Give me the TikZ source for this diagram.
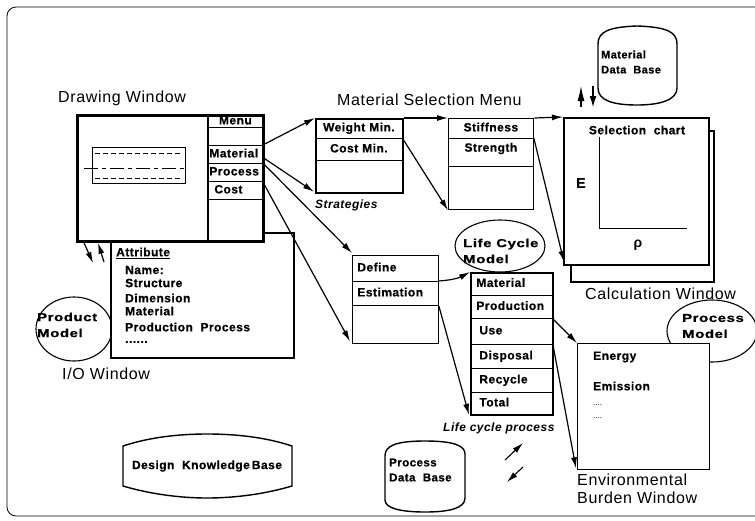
\documentclass[tikz,border=0pt]{standalone}
\usepackage{fontspec}
\setmainfont{Liberation Sans}
\newfontfamily\labfam[LetterSpace=4]{Liberation Sans}
\newfontfamily\bxfam[LetterSpace=4,BoldFeatures={FakeBold=0.6}]{Liberation Sans}
\newfontfamily\dispfam[FakeStretch=1.3,LetterSpace=5,BoldFeatures={FakeBold=0.8}]{Liberation Sans}
\newcommand\labtxt{\labfam\fontsize{16}{18}\selectfont}
\newcommand\bxtxt{\bxfam\bfseries\fontsize{12}{14}\selectfont}
\newcommand\disptxt{\dispfam\bfseries\fontsize{11.5}{16}\selectfont}
\usetikzlibrary{arrows.meta,calc,shapes.geometric}
\begin{document}
\begin{tikzpicture}[x=1pt,y=-1pt,
  conn/.style={line width=1.2pt,-{Latex[length=11pt,width=6pt]}},
  bigbox/.style={draw,line width=1.8pt,fill=white,anchor=north west,inner sep=0pt},
  midbox/.style={draw,line width=1.3pt,anchor=north west,inner sep=0pt},
  cell/.style={draw,line width=0.8pt,anchor=north west,inner xsep=5pt,inner ysep=0pt,
     text width=#1,font=\bxtxt,align=left,text height=8.5pt,text depth=2.5pt},
  ccell/.style={cell=#1,align=center},
  db/.style={draw,line width=1.4pt,fill=white},
  oval/.style={draw,ellipse,line width=1.1pt,inner sep=0pt},
  lab/.style={font=\labtxt,inner sep=0pt,anchor=west},
  btxt/.style={font=\bxtxt,inner sep=0pt,anchor=west,align=left},
  dtxt/.style={font=\disptxt,inner sep=0pt,anchor=west,align=left}]
\useasboundingbox (0,0) rectangle (755,520);
\fill[white] (0,0) rectangle (755,520);
% outer frame
\draw[line width=0.8pt,rounded corners=9pt] (7,7) rectangle (768,516);

% ---------- Product model + I/O window
\node[oval,minimum width=76pt,minimum height=64pt] (pm) at (74,329) {};
\node[bigbox,minimum width=183pt,minimum height=125pt] (io) at (110,232) {};
\node[dtxt] (pmt) at (37,325) {Product\\Model};
\node[btxt] (attr) at (116,253) {\underline{Attribute}};
\node[btxt] (a1) at (125,270) {Name:};
\node[btxt] (a2) at (125,283) {Structure};
\node[btxt] (a3) at (125,298) {Dimension};
\node[btxt] (a4) at (125,311) {Material};
\node[btxt] (a5) at (125,327) {Production\ \ Process};
\node[btxt] (a6) at (125,342) {......};
\node[lab] (iolab) at (62,374) {I/O Window};

% ---------- Drawing window
\node[bigbox,minimum width=185pt,minimum height=125pt] (dw) at (77,115) {};
\node[lab] (dwlab) at (58,98) {Drawing Window};
\draw[line width=0.9pt] (92,147) rectangle (185,183);
\draw[line width=0.9pt,dash pattern=on 5pt off 3pt] (95,153) -- (183,153);
\draw[line width=0.9pt,dash pattern=on 5pt off 3pt] (95,178) -- (183,178);
\draw[line width=0.9pt,dash pattern=on 14pt off 4pt on 4pt off 4pt] (84,168) -- (188,168);
\node[ccell=44pt,minimum height=12pt] (menuc) at (208,115) {Menu};
\node[cell=44pt,minimum height=18pt] (blankc) at (208,127) {};
\node[cell=44pt,minimum height=18pt,inner xsep=1pt,text width=52pt] (matc) at (208,145) {Material};
\node[cell=44pt,minimum height=18pt,inner xsep=1pt,text width=52pt] (procc) at (208,163) {Process};
\node[cell=44pt,minimum height=18pt,inner xsep=6pt,text width=42pt] (costc) at (208,181) {Cost};
\draw[line width=1.8pt] (dw.north west) rectangle (dw.south east);
\draw[line width=1.8pt] ($(dw.north west)+(131,0)$) -- ($(dw.south west)+(131,0)$);

% ---------- Material selection menu
\node[lab] (msm) at (337,100) {Material Selection Menu};
\node[ccell=77pt,minimum height=20pt] (wm) at (315,118) {Weight\ Min.};
\node[ccell=77pt,minimum height=22pt] (cmn) at (315,138) {Cost\ Min.};
\node[cell=77pt,minimum height=32pt] (wrest) at (315,160) {};
\node[midbox,line width=1.8pt,minimum width=87pt,minimum height=74pt] (wbox) at (315,118) {};
\node[btxt,font=\bxtxt\itshape] (strat) at (315,205) {Strategies};

\node[ccell=75pt,minimum height=20pt] (st) at (448,118) {Stiffness};
\node[ccell=75pt,minimum height=28pt,text height=8.5pt,text depth=10pt] (sg) at (448,138) {Strength};
\node[cell=75pt,minimum height=43pt] (srest) at (448,166) {};
\node[midbox,minimum width=85pt,minimum height=91pt] (sbox) at (448,118) {};

% ---------- Calculation window
\node[bigbox,minimum width=143pt,minimum height=151pt] (chartb) at (570,130) {};
\node[bigbox,line width=2pt,minimum width=145pt,minimum height=147pt] (chart) at (563,117) {};
\node[btxt,anchor=center] (selc) at (637,130) {Selection\ \ chart};
\node[btxt,font=\bxfam\bfseries\fontsize{14}{16}\selectfont] (ee) at (576,183) {E};
\node[btxt,anchor=center,font=\bfseries\fontsize{14}{16}\selectfont] (rho) at (638,245) {ρ};
\draw[line width=0.9pt] ($(chart.north west)+(36,20)$) -- ($(chart.north west)+(36,111)$) -- ($(chart.north west)+(124,111)$);
\node[lab] (calclab) at (585,294) {Calculation Window};

% ---------- Material data base
\draw[db] (598,44) .. controls (598,32) and (608,27) .. (637,26) .. controls (667,27) and (677,32) .. (677,44)
  -- (677,88) .. controls (677,100) and (660,105) .. (637,105) .. controls (612,105) and (598,100) .. (598,88) -- cycle;
\node[btxt,font=\bxfam\bfseries\fontsize{11}{15}\selectfont] (mdb) at (601,62) {Material\\Data\ \ Base};
\coordinate (mdbL) at (581,86);
\coordinate (mdbR) at (593,86);
\draw[line width=1.1pt,-{Latex[length=15pt,width=7pt]}] ($(chart.north west)+(18,-10)$) -- (mdbL);
\draw[line width=1.1pt,-{Latex[length=11pt,width=7pt]}] (mdbR) -- ($(chart.north west)+(30,-10)$);

% ---------- Define / Estimation
\node[cell=76pt,minimum height=26pt] (de) at (352,255) {Define};
\node[cell=76pt,minimum height=24pt] (es) at (352,281) {Estimation};
\node[cell=76pt,minimum height=38pt] (drest) at (352,305) {};
\node[midbox,minimum width=86pt,minimum height=88pt] (dbox) at (352,255) {};

% ---------- Life cycle model
\node[oval,minimum width=90pt,minimum height=52pt] (lcm) at (500,246) {};
\node[dtxt] (lcmt) at (463,251) {Life Cycle\\Model};
\node[cell=70pt,minimum height=23pt,inner xsep=6pt] (lc1) at (470,272) {Material};
\node[cell=70pt,minimum height=23pt,inner xsep=6pt] (lc2) at (470,295) {Production};
\node[cell=70pt,minimum height=26pt,inner xsep=9pt,text width=64pt] (lc3) at (470,318) {Use};
\node[cell=70pt,minimum height=24pt,inner xsep=9pt,text width=64pt] (lc4) at (470,344) {Disposal};
\node[cell=70pt,minimum height=24pt,inner xsep=9pt,text width=64pt] (lc5) at (470,368) {Recycle};
\node[cell=70pt,minimum height=22pt,inner xsep=9pt,text width=64pt] (lc6) at (470,392) {Total};
\node[midbox,line width=1.8pt,minimum width=82pt,minimum height=142pt] (lcbox) at (470,272) {};
\node[btxt,font=\bxtxt\itshape] (lcp) at (443,428) {Life cycle process};

% ---------- Environmental burden window
\node[oval,minimum width=90pt,minimum height=62pt] (prm) at (712,331) {};
\node[midbox,fill=white,minimum width=132pt,minimum height=126pt] (env) at (577,343) {};
\node[dtxt] (prmt) at (682,326) {Process\\Model};
\node[btxt] (en1) at (593,357) {Energy};
\node[btxt] (en2) at (593,386) {Emission};
\node[btxt,font=\fontsize{8}{9}\selectfont] (en3) at (593,405) {....};
\node[btxt,font=\fontsize{8}{9}\selectfont] (en4) at (593,418) {....};
\node[lab,align=left,font=\labfam\fontsize{16}{18}\selectfont] (envlab) at (577,489) {Environmental\\Burden Window};

% ---------- Knowledge / data bases
\draw[db] (123,446) .. controls (150,437) and (180,434) .. (207,434) .. controls (235,434) and (265,437) .. (292,446)
  -- (292,486) .. controls (265,494) and (235,498) .. (207,498) .. controls (180,498) and (150,494) .. (123,486) -- cycle;
\node[btxt,anchor=center] (dkb) at (207,466) {Design\ \ Knowledge\,Base};
\draw[db] (385,456) .. controls (385,446) and (395,441) .. (425,441) .. controls (455,441) and (465,446) .. (465,454)
  -- (465,498) .. controls (465,508) and (450,512) .. (425,512) .. controls (400,512) and (385,508) .. (385,500) -- cycle;
\node[btxt,font=\bxfam\bfseries\fontsize{11.5}{15}\selectfont] (pdb) at (389,470) {Process\\Data\ \ Base};
\coordinate (p1) at (505,460);
\coordinate (p2) at (523,443);
\coordinate (p3) at (523,467);
\coordinate (p4) at (507,482);
\draw[line width=1.1pt,-{Latex[length=11pt,width=6pt]}] (p1) -- (p2);
\draw[line width=1.1pt,-{Latex[length=11pt,width=6pt]}] (p3) -- (p4);

% ---------- connectors
\coordinate (dwio1) at (93,263);
\coordinate (dwio2) at (104,262);
\draw[conn] ($(dw.south west)+(7,1)$) -- (dwio1);
\draw[conn] (dwio2) -- ($(dw.south west)+(21,1)$);
\draw[conn] (matc.north east) -- (wbox.north west);
\draw[conn] ($(matc.east)+(0,3)$) -- ($(wbox.south west)+(-1,-2)$);
\draw[conn] (procc.north east) -- ($(dbox.north west)+(0,-2)$);
\draw[conn] (procc.south east) -- ($(dbox.south west)+(-2,-3)$);
\draw[conn] (wbox.north east) -- (sbox.north west);
\draw[conn] (sbox.north east) -- (chart.north west);
\draw[conn] (wm.south east) -- (sbox.south west);
\draw[conn] (sg.north east) -- ($(chart.south west)+(1,-4)$);
\draw[conn] (es.north east) to[bend right=12] (lcbox.north west);
\draw[conn] (es.south east) -- ($(lcbox.south west)+(-1,-1)$);
\draw[conn] (lc2.south east) -- (env.north west);
\draw[conn] (lc4.north east) -- ($(env.south west)+(-1,-2)$);
\end{tikzpicture}
\end{document}
